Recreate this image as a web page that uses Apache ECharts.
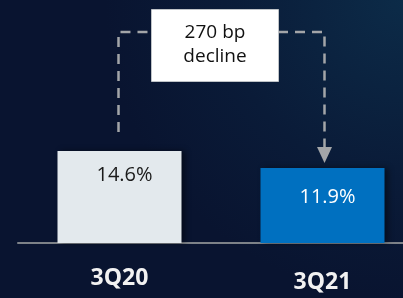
<!DOCTYPE html>
<html>
<head>
<meta charset="utf-8">
<script src="https://cdn.jsdelivr.net/npm/echarts@6/dist/echarts.min.js"></script>
<style>
  html, body { margin: 0; padding: 0; }
  #chart { width: 403px; height: 298px; }
</style>
</head>
<body>
<div id="chart"></div>
<script>
  // data
  var quarters = ['3Q20', '3Q21'];
  var marginValues = [14.6, 11.9];
  var barColors = ['#e3e9ed', '#0070c0'];
  var labelColors = ['#1a1a1a', '#ffffff'];
  var changeText = ['270 bp', 'decline'];

  var chart = echarts.init(document.getElementById('chart'));

  chart.setOption({
    animation: false,
    backgroundColor: new echarts.graphic.RadialGradient(1, 0, 1, [
      { offset: 0, color: '#0c2b48' },
      { offset: 0.6, color: '#0a1b38' },
      { offset: 1, color: '#091430' }
    ]),
    grid: { left: 18, right: -21, top: 54, bottom: 55, outerBoundsMode: 'none' },
    xAxis: {
      type: 'category',
      data: quarters.map(function (q, i) {
        return { value: q, textStyle: { padding: [i === 1 ? 4 : 0, 0, 0, 0] } };
      }),
      axisTick: { show: false },
      axisLine: { lineStyle: { color: '#7d8288', width: 2 } },
      axisLabel: {
        margin: 24,
        color: '#f2f2f2',
        fontFamily: 'Open Sans',
        fontWeight: 'bold',
        fontSize: 23
      }
    },
    yAxis: {
      type: 'value',
      min: 0,
      max: 30,
      show: false,
      splitLine: { show: false }
    },
    series: [{
      type: 'bar',
      barWidth: 124,
      data: marginValues.map(function (v, i) {
        return {
          value: v,
          itemStyle: { color: barColors[i] },
          label: {
            color: labelColors[i],
            distance: i === 0 ? 14 : 19
          }
        };
      }),
      itemStyle: {
        shadowColor: 'rgba(0,0,0,0.45)',
        shadowBlur: 6,
        shadowOffsetX: 3
      },
      label: {
        show: true,
        position: 'insideTop',
        offset: [5, 0],
        fontFamily: 'Open Sans',
        fontSize: 20,
        formatter: function (p) { return p.value.toFixed(1) + '%'; }
      },
      z: 2
    }]
  });

  // dashed connector from first bar to second, with the change box
  var p1 = chart.convertToPixel({ seriesIndex: 0 }, [0, marginValues[0]]);
  var p2 = chart.convertToPixel({ seriesIndex: 0 }, [1, marginValues[1]]);
  var topY = 32;
  var leftX = p1[0] - 1;
  var rightX = p2[0] + 2;
  var tipY = p2[1] - 5;
  var dash = { stroke: '#a3a5a8', lineWidth: 2.5, lineDash: [10, 7] };

  chart.setOption({
    graphic: [
      {
        type: 'polyline',
        shape: { points: [[leftX, p1[1] - 19], [leftX, topY], [151, topY]] },
        style: dash,
        z: 5
      },
      {
        type: 'polyline',
        shape: { points: [[278, topY], [rightX, topY], [rightX, tipY - 14]] },
        style: dash,
        z: 5
      },
      {
        type: 'polygon',
        shape: { points: [[rightX - 7.5, tipY - 16], [rightX + 7.5, tipY - 16], [rightX, tipY]] },
        style: { fill: '#a3a5a8' },
        z: 5
      },
      {
        type: 'rect',
        shape: { x: 151.5, y: 9.5, width: 127, height: 72 },
        style: { fill: '#ffffff', stroke: '#bfc3c7', lineWidth: 1 },
        z: 6
      },
      {
        type: 'text',
        x: 215,
        y: 45,
        style: {
          text: changeText.join('\n'),
          fill: '#111111',
          font: '19px "Open Sans"',
          lineHeight: 24,
          align: 'center',
          verticalAlign: 'middle'
        },
        z: 7
      }
    ]
  });
</script>
</body>
</html>
